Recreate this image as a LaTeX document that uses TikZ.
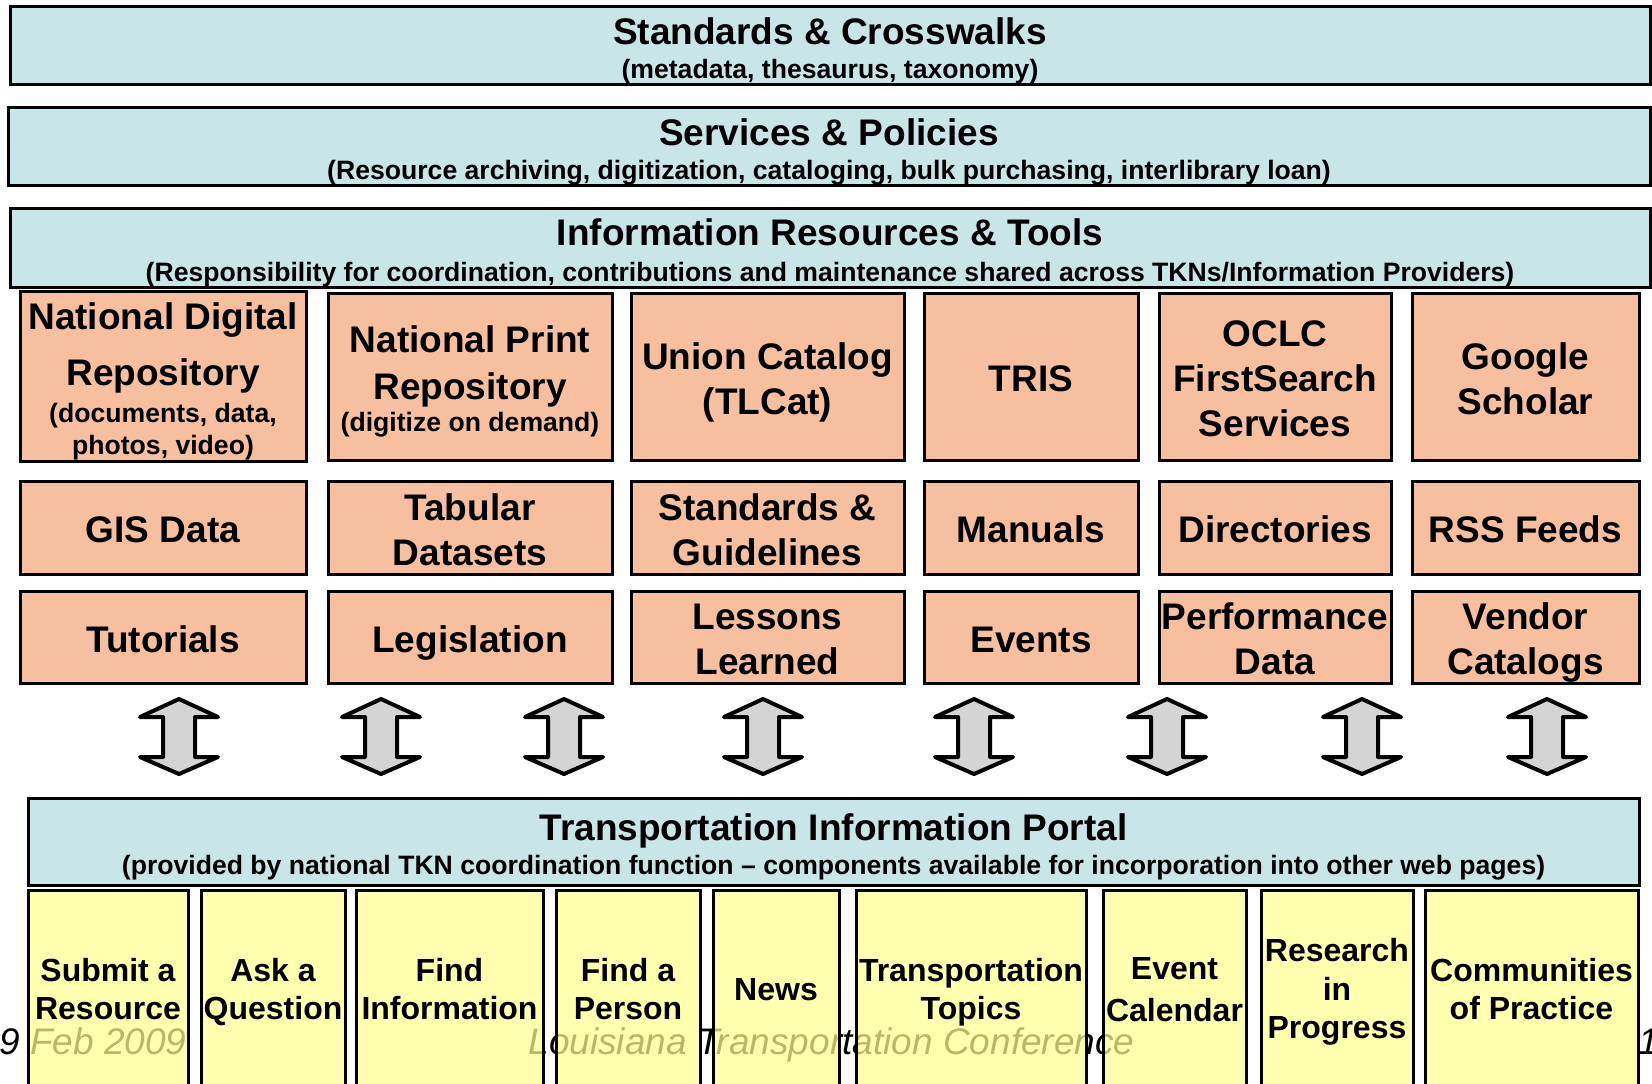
\documentclass[tikz,border=0pt]{standalone}
\usepackage{fontspec}
\setmainfont{Liberation Sans}
\definecolor{layercyan}{RGB}{200,230,231}
\definecolor{respeach}{RGB}{246,192,160}
\definecolor{portyellow}{RGB}{255,255,146}
\newcommand{\subtxt}{\fontsize{26.6}{32}\selectfont}
\newcommand{\tstrut}{\rule{0pt}{38.3pt}}
\newcommand{\bstrut}{\rule[-7.8pt]{0pt}{7.8pt}}
\newcommand{\ytstrut}{\rule{0pt}{29.7pt}}
\newcommand{\ybstrut}{\rule[-6.8pt]{0pt}{6.8pt}}

\begin{document}
\begin{tikzpicture}[x=1pt,y=1pt,yscale=-1,xscale=1,
  headbox/.style={draw,line width=3pt,fill=layercyan,inner sep=0pt,align=center,font=\fontsize{37}{45}\selectfont\bfseries},
  resbox/.style={draw,line width=3pt,fill=respeach,inner sep=0pt,align=center,font=\fontsize{37}{45}\selectfont\bfseries},
  portbox/.style={draw,line width=3pt,fill=portyellow,fill opacity=0.72,draw opacity=1,text opacity=1,inner sep=0pt,align=center,minimum height=198pt,font=\fontsize{32}{38}\selectfont\bfseries},
  footer/.style={inner sep=0pt,font=\fontsize{37}{45}\selectfont\itshape},
  updown/.style={draw,line width=4pt,line join=round,fill=black!17}]
\useasboundingbox (0,0) rectangle (1652,1084);

%Layer boxes
\draw (830,45.5) node (standards) [headbox,minimum width=1640pt,minimum height=77pt] {\rule{0pt}{38pt}Standards \& Crosswalks\\[-10.5pt]\subtxt (metadata, thesaurus, taxonomy)};
\draw (829,146.5) node (services) [headbox,minimum width=1642pt,minimum height=77pt] {\rule{0pt}{38pt}Services \& Policies\\[-11.5pt]\subtxt (Resource archiving, digitization, cataloging, bulk purchasing, interlibrary loan)};
\draw (830,248) node (inforesources) [headbox,minimum width=1640pt,minimum height=78pt] {\rule{0pt}{37pt}Information Resources \& Tools\\[-9.5pt]\subtxt (Responsibility for coordination, contributions and maintenance shared across TKNs/Information Providers)};

%Resources row 1
\draw (163,376.5) node (ndr) [resbox,minimum width=286pt,minimum height=167pt] {\tstrut National Digital\\[11pt]Repository\\[-8.5pt]\subtxt (documents, data,\\[-13pt]\subtxt photos, video)\bstrut};
\draw (470,376.5) node (npr) [resbox,minimum width=284pt,minimum height=167pt] {\tstrut National Print\\[2pt]Repository\\[-12.5pt]\subtxt (digitize on demand)\bstrut};
\draw (767.5,376.5) node (tlcat) [resbox,minimum width=273pt,minimum height=167pt] {\tstrut Union Catalog\\(TLCat)\bstrut};
\draw (1031,376.5) node (tris) [resbox,minimum width=214pt,minimum height=167pt] {\tstrut TRIS\bstrut};
\draw (1275,376.5) node (oclc) [resbox,minimum width=232pt,minimum height=167pt] {\tstrut OCLC\\FirstSearch\\Services\bstrut};
\draw (1525.5,376.5) node (scholar) [resbox,minimum width=227pt,minimum height=167pt] {\tstrut Google\\Scholar\bstrut};

%Resources row 2
\draw (163,527.5) node (gis) [resbox,minimum width=286pt,minimum height=93pt] {\tstrut GIS Data\bstrut};
\draw (470,527.5) node (tabular) [resbox,minimum width=284pt,minimum height=93pt] {\tstrut Tabular\\Datasets\bstrut};
\draw (767.5,527.5) node (guidelines) [resbox,minimum width=273pt,minimum height=93pt] {\tstrut Standards \&\\Guidelines\bstrut};
\draw (1031,527.5) node (manuals) [resbox,minimum width=214pt,minimum height=93pt] {\tstrut Manuals\bstrut};
\draw (1275,527.5) node (directories) [resbox,minimum width=232pt,minimum height=93pt] {\tstrut Directories\bstrut};
\draw (1525.5,527.5) node (rss) [resbox,minimum width=227pt,minimum height=93pt] {\tstrut RSS Feeds\bstrut};

%Resources row 3
\draw (163,637) node (tutorials) [resbox,minimum width=286pt,minimum height=92pt] {\tstrut Tutorials\bstrut};
\draw (470,637) node (legislation) [resbox,minimum width=284pt,minimum height=92pt] {\tstrut Legislation\bstrut};
\draw (767.5,637) node (lessons) [resbox,minimum width=273pt,minimum height=92pt] {\tstrut Lessons\\Learned\bstrut};
\draw (1031,637) node (events) [resbox,minimum width=214pt,minimum height=92pt] {\tstrut Events\bstrut};
\draw (1275,637) node (perfdata) [resbox,minimum width=232pt,minimum height=92pt] {\tstrut Performance\\Data\bstrut};
\draw (1525.5,637) node (vendors) [resbox,minimum width=227pt,minimum height=92pt] {\tstrut Vendor\\Catalogs\bstrut};

%Shape: Up Down Arrows
\draw [updown] (179,699) -- ++(39,18) -- ++(-23,0) -- ++(0,40) -- ++(23,0) -- ++(-39,17) -- ++(-39,-17) -- ++(23,0) -- ++(0,-40) -- ++(-23,0) -- cycle;
\draw [updown] (381,699) -- ++(39,18) -- ++(-23,0) -- ++(0,40) -- ++(23,0) -- ++(-39,17) -- ++(-39,-17) -- ++(23,0) -- ++(0,-40) -- ++(-23,0) -- cycle;
\draw [updown] (564,699) -- ++(39,18) -- ++(-23,0) -- ++(0,40) -- ++(23,0) -- ++(-39,17) -- ++(-39,-17) -- ++(23,0) -- ++(0,-40) -- ++(-23,0) -- cycle;
\draw [updown] (763,699) -- ++(39,18) -- ++(-23,0) -- ++(0,40) -- ++(23,0) -- ++(-39,17) -- ++(-39,-17) -- ++(23,0) -- ++(0,-40) -- ++(-23,0) -- cycle;
\draw [updown] (974,699) -- ++(39,18) -- ++(-23,0) -- ++(0,40) -- ++(23,0) -- ++(-39,17) -- ++(-39,-17) -- ++(23,0) -- ++(0,-40) -- ++(-23,0) -- cycle;
\draw [updown] (1167,699) -- ++(39,18) -- ++(-23,0) -- ++(0,40) -- ++(23,0) -- ++(-39,17) -- ++(-39,-17) -- ++(23,0) -- ++(0,-40) -- ++(-23,0) -- cycle;
\draw [updown] (1362,699) -- ++(39,18) -- ++(-23,0) -- ++(0,40) -- ++(23,0) -- ++(-39,17) -- ++(-39,-17) -- ++(23,0) -- ++(0,-40) -- ++(-23,0) -- cycle;
\draw [updown] (1547,699) -- ++(39,18) -- ++(-23,0) -- ++(0,40) -- ++(23,0) -- ++(-39,17) -- ++(-39,-17) -- ++(23,0) -- ++(0,-40) -- ++(-23,0) -- cycle;

%Portal
\draw (833.5,841.5) node (portal) [headbox,minimum width=1611pt,minimum height=87pt] {\rule{0pt}{38pt}Transportation Information Portal\\[-11.5pt]\subtxt (provided by national TKN coordination function -- components available for incorporation into other web pages)};

% Text Node
\draw (-1,1054) node (date) [footer,anchor=base west] {9 Feb 2009};
\draw (831.5,1054) node (conference) [footer,anchor=base] {Louisiana Transportation Conference};
\draw (1638,1054) node (pagenum) [footer,anchor=base west] {1};

%Portal components
\draw (108,989) node (submit) [portbox,minimum width=160pt] {\ytstrut Submit a\\Resource\ybstrut};
\draw (273,989) node (ask) [portbox,minimum width=144pt] {\ytstrut Ask a\\Question\ybstrut};
\draw (449.5,989) node (findinfo) [portbox,minimum width=187pt] {\ytstrut Find\\Information\ybstrut};
\draw (628,989) node (findperson) [portbox,minimum width=144pt] {\ytstrut Find a\\Person\ybstrut};
\draw (776,989) node (news) [portbox,minimum width=126pt] {\ytstrut News\ybstrut};
\draw (971,989) node (topics) [portbox,minimum width=230pt] {\ytstrut Transportation\\Topics\ybstrut};
\draw (1174.5,989) node (calendar) [portbox,minimum width=143pt] {\ytstrut Event\\[4pt]Calendar\ybstrut};
\draw (1337,989) node (research) [portbox,minimum width=152pt] {\ytstrut Research\\[0.5pt]in\\[0.5pt]Progress\ybstrut};
\draw (1531.5,989) node (communities) [portbox,minimum width=213pt] {\ytstrut Communities\\of Practice\ybstrut};

\end{tikzpicture}
\end{document}
